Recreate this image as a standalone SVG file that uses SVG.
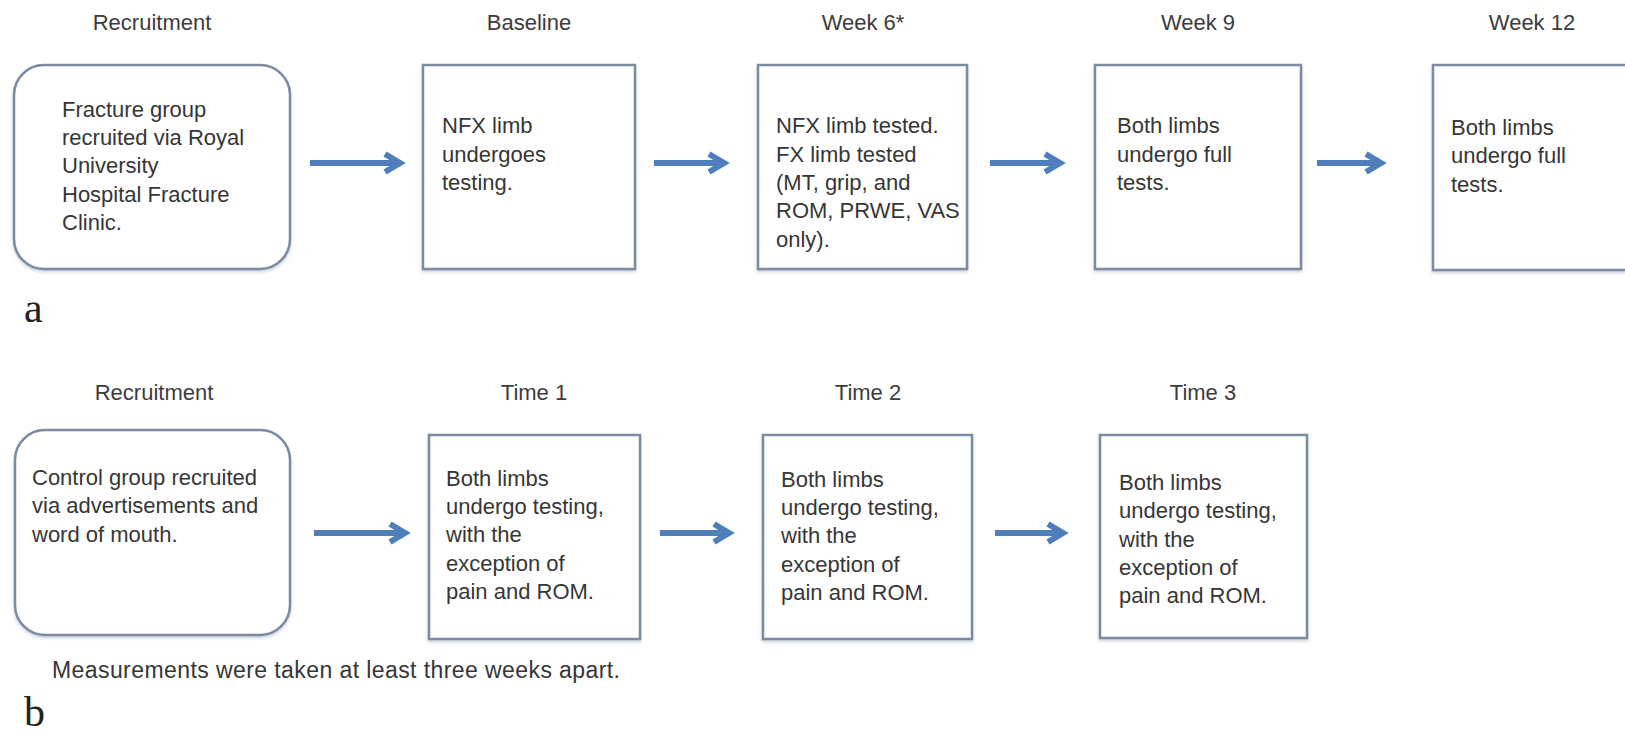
<svg xmlns="http://www.w3.org/2000/svg" width="1625" height="736" viewBox="0 0 1625 736">
<defs>
<filter id="sh" x="-10%" y="-10%" width="120%" height="120%">
<feDropShadow dx="0" dy="2" stdDeviation="1.5" flood-color="#9aa8bd" flood-opacity="0.5"/>
</filter>
<marker id="ah" markerUnits="userSpaceOnUse" markerWidth="30" markerHeight="30" refX="20" refY="12" orient="auto">
<path d="M5 3 L20 12 L5 21" fill="none" stroke="#4f7fba" stroke-width="6" stroke-linejoin="miter" stroke-linecap="butt"/>
</marker>
</defs>
<style>
.box{fill:#fff;stroke:#7b8aa2;stroke-width:2.5;filter:url(#sh)}
.t{font-family:"Liberation Sans",Arial,sans-serif;font-size:22px;fill:#363636}
.lb{font-family:"Liberation Sans",Arial,sans-serif;font-size:22px;fill:#3c3c3c;text-anchor:middle}
.pl{font-family:"Liberation Serif","Times New Roman",serif;font-size:42px;fill:#222}
.arr{stroke:#4f7fba;stroke-width:6;fill:none;marker-end:url(#ah)}
</style>
<rect width="1625" height="736" fill="#fff"/>

<g id="labels">
<text class="lb" x="152" y="30">Recruitment</text>
<text class="lb" x="529" y="30">Baseline</text>
<text class="lb" x="863" y="30">Week 6*</text>
<text class="lb" x="1198" y="30">Week 9</text>
<text class="lb" x="1532" y="30">Week 12</text>
<text class="lb" x="154" y="400">Recruitment</text>
<text class="lb" x="534" y="400">Time 1</text>
<text class="lb" x="868" y="400">Time 2</text>
<text class="lb" x="1203" y="400">Time 3</text>
</g>

<g id="a-recruit">
<rect class="box" x="14" y="65" width="276" height="204" rx="30"/>
<text class="t" x="62" y="117">Fracture group</text>
<text class="t" x="62" y="145">recruited via Royal</text>
<text class="t" x="62" y="173">University</text>
<text class="t" x="62" y="202">Hospital Fracture</text>
<text class="t" x="62" y="230">Clinic.</text>
</g>
<g id="a-baseline">
<rect class="box" x="423" y="65" width="212" height="204"/>
<text class="t" x="442" y="133">NFX limb</text>
<text class="t" x="442" y="162">undergoes</text>
<text class="t" x="442" y="190">testing.</text>
</g>
<g id="a-week6">
<rect class="box" x="758" y="65" width="209" height="204"/>
<text class="t" x="776" y="133">NFX limb tested.</text>
<text class="t" x="776" y="162">FX limb tested</text>
<text class="t" x="776" y="190">(MT, grip, and</text>
<text class="t" x="776" y="218">ROM, PRWE, VAS</text>
<text class="t" x="776" y="247">only).</text>
</g>
<g id="a-week9">
<rect class="box" x="1095" y="65" width="206" height="204"/>
<text class="t" x="1117" y="133">Both limbs</text>
<text class="t" x="1117" y="162">undergo full</text>
<text class="t" x="1117" y="190">tests.</text>
</g>
<g id="a-week12">
<rect class="box" x="1433" y="65" width="210" height="205"/>
<text class="t" x="1451" y="135">Both limbs</text>
<text class="t" x="1451" y="163">undergo full</text>
<text class="t" x="1451" y="192">tests.</text>
</g>

<g id="b-recruit">
<rect class="box" x="15" y="430" width="275" height="205" rx="30"/>
<text class="t" x="32" y="485">Control group recruited</text>
<text class="t" x="32" y="513">via advertisements and</text>
<text class="t" x="32" y="542">word of mouth.</text>
</g>
<g id="b-time1">
<rect class="box" x="429" y="435" width="211" height="204"/>
<text class="t" x="446" y="486">Both limbs</text>
<text class="t" x="446" y="514">undergo testing,</text>
<text class="t" x="446" y="542">with the</text>
<text class="t" x="446" y="571">exception of</text>
<text class="t" x="446" y="599">pain and ROM.</text>
</g>
<g id="b-time2">
<rect class="box" x="763" y="435" width="209" height="204"/>
<text class="t" x="781" y="487">Both limbs</text>
<text class="t" x="781" y="515">undergo testing,</text>
<text class="t" x="781" y="543">with the</text>
<text class="t" x="781" y="572">exception of</text>
<text class="t" x="781" y="600">pain and ROM.</text>
</g>
<g id="b-time3">
<rect class="box" x="1100" y="435" width="207" height="203"/>
<text class="t" x="1119" y="490">Both limbs</text>
<text class="t" x="1119" y="518">undergo testing,</text>
<text class="t" x="1119" y="547">with the</text>
<text class="t" x="1119" y="575">exception of</text>
<text class="t" x="1119" y="603">pain and ROM.</text>
</g>

<g id="connectors">
<line class="arr" x1="310" y1="163" x2="400" y2="163"/>
<line class="arr" x1="654" y1="163" x2="724" y2="163"/>
<line class="arr" x1="990" y1="163" x2="1060" y2="163"/>
<line class="arr" x1="1317" y1="163" x2="1381" y2="163"/>
<line class="arr" x1="314" y1="533" x2="405" y2="533"/>
<line class="arr" x1="660" y1="533" x2="729" y2="533"/>
<line class="arr" x1="995" y1="533" x2="1063" y2="533"/>
</g>

<g id="notes">
<text class="t" x="52" y="678" style="font-size:23px" textLength="568" lengthAdjust="spacing">Measurements were taken at least three weeks apart.</text>
<text class="pl" x="24" y="322">a</text>
<text class="pl" x="24" y="726">b</text>
</g>
</svg>
